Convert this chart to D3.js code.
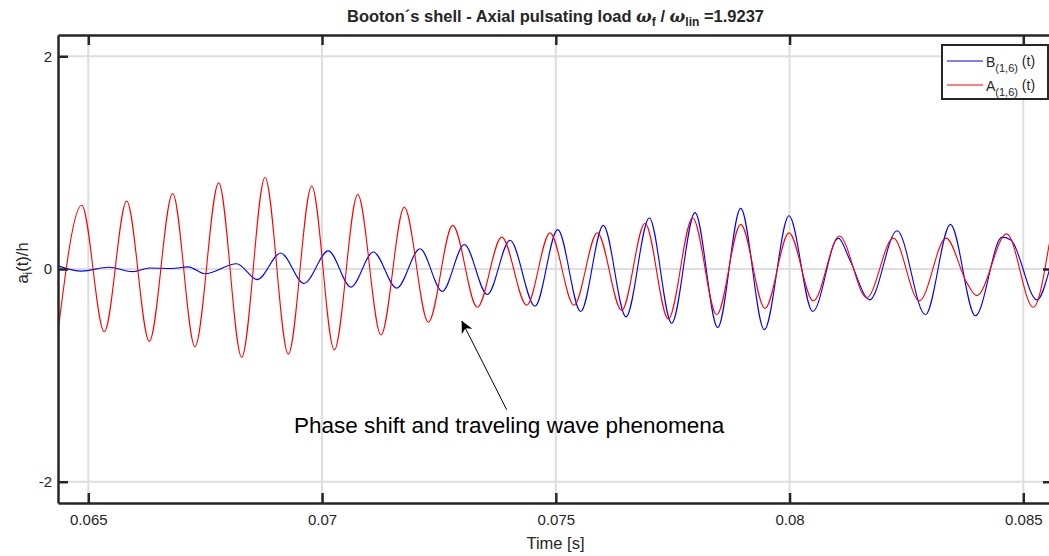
<!DOCTYPE html>
<html>
<head>
<meta charset="utf-8">
<script src="https://cdn.jsdelivr.net/npm/d3@7"></script>
<style>
    body { margin: 0; background: #fff; }
    svg text { font-family: "Liberation Sans", Arial, sans-serif; fill: #262626; }
</style>
</head>
<body>
<svg id="chart" width="1049" height="556"></svg>
<script>
'use strict';

// A(1,6)(t) - red curve, extrema (time [s], a/h)
var aTime = [0.064352, 0.064859, 0.065342, 0.065821, 0.066305, 0.066805, 0.067282, 0.067789,
    0.068281, 0.068780, 0.069278, 0.069779, 0.070262, 0.070763, 0.071261, 0.071759,
    0.072273, 0.072795, 0.073321, 0.073843, 0.074378, 0.074876, 0.075389, 0.075888,
    0.076410, 0.076908, 0.077406, 0.077928, 0.078442, 0.078955, 0.079475, 0.079988,
    0.080508, 0.081064, 0.081650, 0.082219, 0.082775, 0.083347, 0.083798, 0.084003,
    0.084645, 0.085214, 0.085556];
var aValue = [-0.59, 0.60, -0.59, 0.64, -0.68, 0.71, -0.73, 0.81,
    -0.83, 0.86, -0.80, 0.78, -0.76, 0.70, -0.62, 0.58,
    -0.50, 0.41, -0.36, 0.30, -0.34, 0.34, -0.34, 0.34,
    -0.39, 0.43, -0.47, 0.48, -0.43, 0.42, -0.37, 0.34,
    -0.30, 0.31, -0.27, 0.29, -0.30, 0.29, -0.135, -0.25,
    0.33, -0.36, 0.24];

// B(1,6)(t) - blue curve
var bTime = [0.064352, 0.064859, 0.065440, 0.065956, 0.066320, 0.066784, 0.067139, 0.067496,
    0.068174, 0.068615, 0.069116, 0.069614, 0.070134, 0.070619, 0.071096, 0.071597,
    0.072095, 0.072572, 0.073043, 0.073535, 0.074021, 0.074555, 0.075041, 0.075533,
    0.076016, 0.076502, 0.077000, 0.077479, 0.077978, 0.078463, 0.078955, 0.079460,
    0.079988, 0.080495, 0.081043, 0.081290, 0.081714, 0.082300, 0.082906, 0.083441,
    0.083975, 0.084546, 0.084740, 0.085293, 0.085563];
var bValue = [0.03, -0.02, 0.017, -0.025, 0.01, 0.005, 0.02, -0.045,
    0.05, -0.10, 0.15, -0.135, 0.17, -0.17, 0.16, -0.18,
    0.19, -0.21, 0.23, -0.24, 0.27, -0.35, 0.37, -0.40,
    0.41, -0.45, 0.48, -0.51, 0.53, -0.55, 0.57, -0.57,
    0.50, -0.40, 0.29, 0.085, -0.29, 0.36, -0.43, 0.42,
    -0.44, 0.30, 0.27, -0.29, 0.00];

var xTicks = [0.065, 0.07, 0.075, 0.08, 0.085];
var xTickLabels = ['0.065', '0.07', '0.075', '0.08', '0.085'];
var yTicks = [-2, 0, 2];
var yTickLabels = ['-2', '0', '2'];
var xDomain = [0.064352, 0.085635];
var yDomain = [-2.2, 2.2];

// annotation: arrow tail / head and text anchor in data units
var noteText = 'Phase shift and traveling wave phenomena';
var noteArrow = [[0.073950, -1.3236], [0.072987, -0.4877]];
var noteAt = [0.069400, -1.538];

var svg = d3.select('#chart');
var plotLeft = 58, plotRight = 1053, plotTop = 35, plotBottom = 503;

var x = d3.scaleLinear().domain(xDomain).range([plotLeft, plotRight]);
var y = d3.scaleLinear().domain(yDomain).range([plotBottom, plotTop]);

svg.append('defs').append('clipPath').attr('id', 'plotClip')
    .append('rect')
    .attr('x', plotLeft).attr('y', plotTop)
    .attr('width', plotRight - plotLeft).attr('height', plotBottom - plotTop);

// grid
var grid = svg.append('g').attr('stroke', '#dedede').attr('stroke-width', 2);
grid.selectAll('.vg').data(xTicks).enter().append('line')
    .attr('x1', function (d) { return x(d); }).attr('x2', function (d) { return x(d); })
    .attr('y1', plotTop).attr('y2', plotBottom);
grid.selectAll('.hg').data(yTicks).enter().append('line')
    .attr('y1', function (d) { return y(d); }).attr('y2', function (d) { return y(d); })
    .attr('x1', plotLeft).attr('x2', plotRight);

// curves
var line = d3.line()
    .x(function (d) { return x(d[0]); })
    .y(function (d) { return y(d[1]); })
    .curve(d3.curveMonotoneX);

var plot = svg.append('g').attr('clip-path', 'url(#plotClip)');
plot.append('path')
    .datum(d3.zip(bTime, bValue))
    .attr('d', line)
    .attr('fill', 'none').attr('stroke', '#0000ff').attr('stroke-width', 1.1);
plot.append('path')
    .datum(d3.zip(aTime, aValue))
    .attr('d', line)
    .attr('fill', 'none').attr('stroke', '#ff0000').attr('stroke-width', 1.1);

// axes, ticks pointing inward on all four sides
function styleAxis(g) {
    g.selectAll('path.domain').attr('stroke', '#262626').attr('stroke-width', 2.5);
    g.selectAll('.tick line').attr('stroke', '#262626').attr('stroke-width', 2.5);
    g.selectAll('.tick text').attr('font-size', 15).attr('fill', '#262626')
        .attr('font-family', '"Liberation Sans", Arial, sans-serif');
}

svg.append('g').attr('transform', 'translate(0,' + plotBottom + ')')
    .call(d3.axisBottom(x).tickValues(xTicks)
        .tickFormat(function (d, i) { return xTickLabels[i]; })
        .tickSize(-10).tickSizeOuter(0).tickPadding(11))
    .call(styleAxis);
svg.append('g').attr('transform', 'translate(0,' + plotTop + ')')
    .call(d3.axisTop(x).tickValues(xTicks).tickFormat('')
        .tickSize(-10).tickSizeOuter(0))
    .call(styleAxis);
svg.append('g').attr('transform', 'translate(' + plotLeft + ',0)')
    .call(d3.axisLeft(y).tickValues(yTicks)
        .tickFormat(function (d, i) { return yTickLabels[i]; })
        .tickSize(-10).tickSizeOuter(0).tickPadding(6))
    .call(styleAxis);
svg.append('g').attr('transform', 'translate(' + plotRight + ',0)')
    .call(d3.axisRight(y).tickValues(yTicks).tickFormat('')
        .tickSize(-10).tickSizeOuter(0))
    .call(styleAxis);

// axis labels
svg.append('text')
    .attr('x', (plotLeft + plotRight) / 2).attr('y', 549)
    .attr('text-anchor', 'middle').attr('font-size', 16.5)
    .text('Time [s]');

var yl = svg.append('text')
    .attr('transform', 'translate(28,' + (y(0) - 6) + ') rotate(-90)')
    .attr('text-anchor', 'middle').attr('font-size', 16.5);
yl.append('tspan').text('a');
yl.append('tspan').attr('dy', 4).attr('font-size', 12).text('i');
yl.append('tspan').attr('dy', -4).text('(t)/h');

// title
var title = svg.append('text')
    .attr('x', (plotLeft + plotRight) / 2).attr('y', 22)
    .attr('text-anchor', 'middle').attr('font-size', 16.5).attr('font-weight', 'bold');
title.append('tspan').text('Booton\u00b4s shell - Axial pulsating load  ');
title.append('tspan').attr('font-style', 'italic').attr('font-family', '"DejaVu Serif", serif').text('\u03c9');
title.append('tspan').attr('dy', 4).attr('font-size', 12).text('f');
title.append('tspan').attr('dy', -4).text(' / ');
title.append('tspan').attr('font-style', 'italic').attr('font-family', '"DejaVu Serif", serif').text('\u03c9');
title.append('tspan').attr('dy', 4).attr('font-size', 12).text('lin');
title.append('tspan').attr('dy', -4).text(' =1.9237');

// annotation arrow
svg.append('defs').append('marker')
    .attr('id', 'arrowHead')
    .attr('viewBox', '0 0 10 10').attr('refX', 10).attr('refY', 5)
    .attr('markerWidth', 12).attr('markerHeight', 12)
    .attr('markerUnits', 'userSpaceOnUse')
    .attr('orient', 'auto')
    .append('path').attr('d', 'M0,0 L10,5 L0,10 L3,5 Z').attr('fill', '#000');
svg.append('line')
    .attr('x1', x(noteArrow[0][0])).attr('y1', y(noteArrow[0][1]))
    .attr('x2', x(noteArrow[1][0])).attr('y2', y(noteArrow[1][1]))
    .attr('stroke', '#000').attr('stroke-width', 1)
    .attr('marker-end', 'url(#arrowHead)');
svg.append('text')
    .attr('x', x(noteAt[0])).attr('y', y(noteAt[1]))
    .attr('font-size', 22.5).style('fill', '#000')
    .text(noteText);

// legend
var legendItems = [
    { name: 'B', color: '#0000ff' },
    { name: 'A', color: '#ff0000' }
];
var legend = svg.append('g');
legend.append('rect')
    .attr('x', 942).attr('y', 45).attr('width', 106).attr('height', 54)
    .attr('fill', '#fff').attr('stroke', '#262626').attr('stroke-width', 2);
var row = legend.selectAll('.row').data(legendItems).enter().append('g')
    .attr('transform', function (d, i) { return 'translate(0,' + (61 + i * 24) + ')'; });
row.append('line')
    .attr('x1', 947).attr('x2', 983)
    .attr('stroke', function (d) { return d.color; }).attr('stroke-width', 1.1);
var lt = row.append('text').attr('x', 986).attr('y', 6).attr('font-size', 14);
lt.append('tspan').text(function (d) { return d.name; });
lt.append('tspan').attr('dy', 5).attr('font-size', 11).text('(1,6)');
lt.append('tspan').attr('dy', -6).text(' (t)');
</script>
</body>
</html>
